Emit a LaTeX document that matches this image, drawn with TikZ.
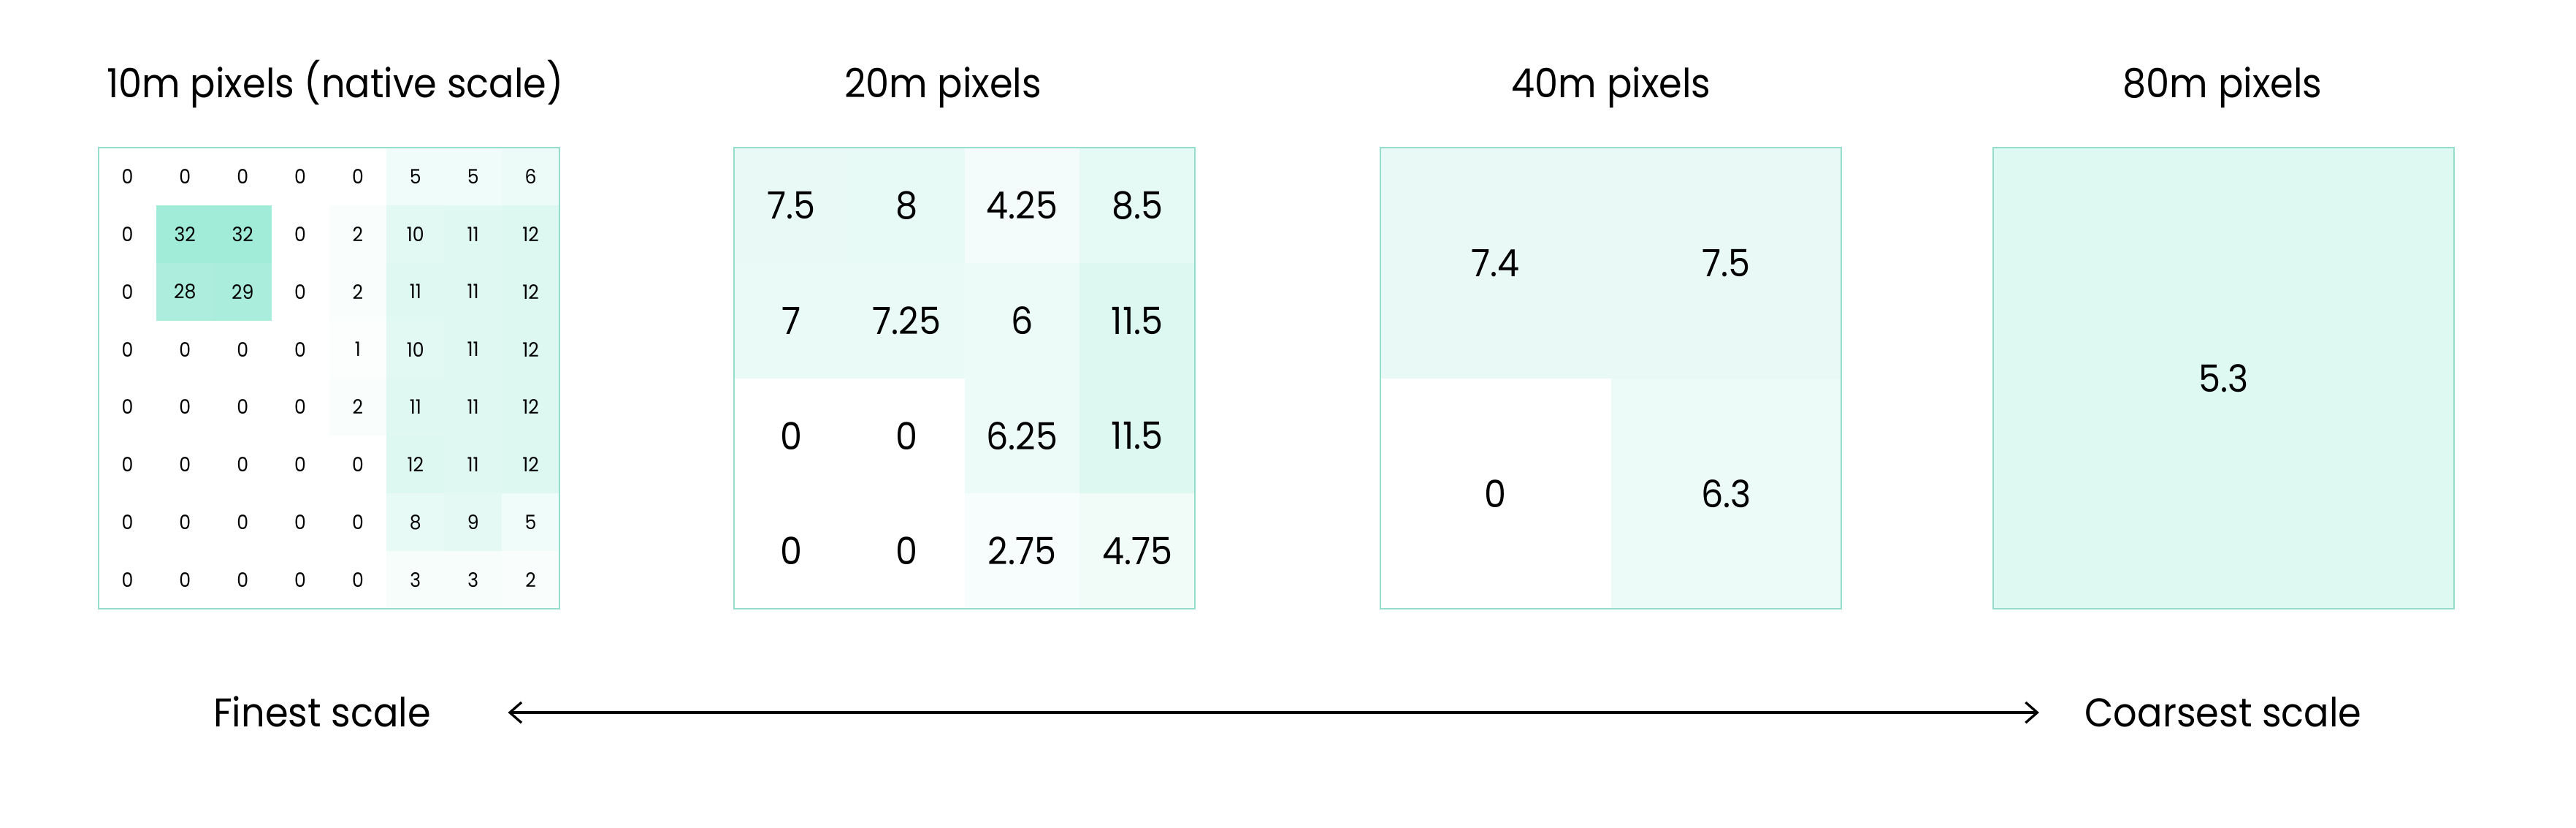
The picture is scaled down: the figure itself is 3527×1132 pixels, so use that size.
\documentclass[tikz,border=0pt]{standalone}
\usepackage{fontspec}
\setmainfont{Poppins}[FakeStretch=0.93]
\usetikzlibrary{calc}
\usetikzlibrary{math}
\usetikzlibrary{arrows.meta}
\definecolor{pixGreen}{RGB}{20,205,160}
\definecolor{pixEdge}{RGB}{150,222,204}
\tikzset{
    label/.style={font=\fontsize{15.6}{18}\selectfont, anchor=base, inner sep=0pt},
    bignum/.style={font=\fontsize{14.6}{17}\selectfont, inner sep=0pt},
    smallnum/.style={font=\fontsize{7.7}{9}\selectfont, inner sep=0pt},
    edge/.style={draw=pixEdge, line width=0.45pt},
}

\begin{document}
\begin{tikzpicture}[x=0.01cm, y=-0.01cm]
    \tikzmath {
        \gridS = 631;
        \gridT = 202;
        \shade = 1.25;
    }
    \useasboundingbox (0,0) rectangle (3527,1132);

    % 10m pixels
    \tikzmath { \gx = 135; \cw = \gridS / 8; }
    \foreach \row [count=\r from 0] in {{0,0,0,0,0,5,5,6},{0,32,32,0,2,10,11,12},{0,28,29,0,2,11,11,12},{0,0,0,0,1,10,11,12},{0,0,0,0,2,11,11,12},{0,0,0,0,0,12,11,12},{0,0,0,0,0,8,9,5},{0,0,0,0,0,3,3,2}}
    {
        \foreach \v [count=\c from 0] in \row
        {
            \pgfmathsetmacro\pct{\v * \shade}
            \fill[pixGreen!\pct!white] (\gx + \c * \cw, \gridT + \r * \cw) rectangle ++(\cw, \cw);
            \node[smallnum] (ten_\r_\c) at (\gx + \c * \cw + \cw / 2, \gridT + \r * \cw + \cw / 2) {\v};
        }
    }
    \draw[edge] (\gx, \gridT) rectangle ++(\gridS, \gridS);

    % 20m pixels
    \tikzmath { \gx = 1005; \cw = \gridS / 4; }
    \foreach \row [count=\r from 0] in {{7.5,8,4.25,8.5},{7,7.25,6,11.5},{0,0,6.25,11.5},{0,0,2.75,4.75}}
    {
        \foreach \v [count=\c from 0] in \row
        {
            \pgfmathsetmacro\pct{\v * \shade}
            \fill[pixGreen!\pct!white] (\gx + \c * \cw, \gridT + \r * \cw) rectangle ++(\cw, \cw);
            \node[bignum] (twenty_\r_\c) at (\gx + \c * \cw + \cw / 2, \gridT + \r * \cw + \cw / 2) {\v};
        }
    }
    \draw[edge] (\gx, \gridT) rectangle ++(\gridS, \gridS);

    % 40m pixels
    \tikzmath { \gx = 1890; \cw = \gridS / 2; }
    \foreach \row [count=\r from 0] in {{7.4,7.5},{0,6.3}}
    {
        \foreach \v [count=\c from 0] in \row
        {
            \pgfmathsetmacro\pct{\v * \shade}
            \fill[pixGreen!\pct!white] (\gx + \c * \cw, \gridT + \r * \cw) rectangle ++(\cw, \cw);
            \node[bignum] (forty_\r_\c) at (\gx + \c * \cw + \cw / 2, \gridT + \r * \cw + \cw / 2) {\v};
        }
    }
    \draw[edge] (\gx, \gridT) rectangle ++(\gridS, \gridS);

    % 80m pixels
    \tikzmath { \gx = 2729; }
    \fill[pixGreen!14!white] (\gx, \gridT) rectangle ++(\gridS, \gridS);
    \node[bignum] (eighty) at (\gx + \gridS / 2, \gridT + \gridS / 2) {5.3};
    \draw[edge] (\gx, \gridT) rectangle ++(\gridS, \gridS);

    \node[label] (title10) at (459, 133) {10m pixels (native scale)};
    \node[label] (title20) at (1291, 133) {20m pixels};
    \node[label] (title40) at (2206, 133) {40m pixels};
    \node[label] (title80) at (3043, 133) {80m pixels};

    \node[label] (finest) at (441, 994) {Finest scale};
    \node[label] (coarsest) at (3044, 994) {Coarsest scale};

    \coordinate (arr_l) at ($(finest.base east) + (105, -19)$);
    \coordinate (arr_r) at ($(coarsest.base west) + (-62, -19)$);
    \draw[{Straight Barb[length=1.6mm, width=2.8mm]}-{Straight Barb[length=1.6mm, width=2.8mm]}, line width=0.94pt, line cap=round] (arr_l) -- (arr_r);

\end{tikzpicture}
\end{document}
